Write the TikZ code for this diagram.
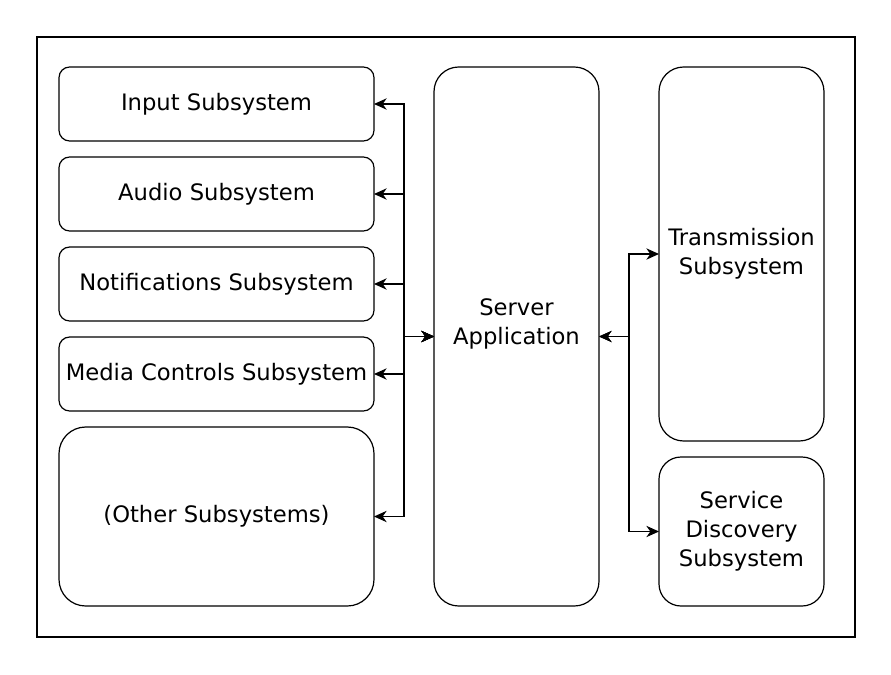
\documentclass[tikz,border=0pt]{standalone}
\usepackage{fontspec}
\setmainfont{DejaVu Sans}
\usetikzlibrary{arrows.meta,positioning,calc}

\begin{document}
\begin{tikzpicture}[>={Stealth[length=9.5pt,width=8.5pt,inset=3pt]}, x=0.75pt, y=-0.75pt, line width=0.9pt, node distance=12pt]
    \tikzset{
      subsystem/.style={rectangle, rounded corners=8pt, draw=black, minimum width=236.25pt, minimum height=55.5pt, inner sep=0pt, outer sep=0pt, text centered, align=center, font=\fontsize{17}{21.75}\selectfont},
      column/.style={rectangle, rounded corners=18.5pt, draw=black, minimum width=123.75pt, inner sep=0pt, outer sep=0pt, text centered, align=center, font=\fontsize{17}{21.75}\selectfont},
      link/.style={draw, <->}
    }

    \useasboundingbox (0,0) rectangle (891,674);
    \draw (37,37) rectangle (855,637);

    % Nodes
    \node [subsystem, anchor=north west] (input) at (59,67) {Input Subsystem};
    \node [subsystem, below=of input] (audio) {Audio Subsystem};
    \node [subsystem, below=of audio] (notifications) {Notifications Subsystem};
    \node [subsystem, below=of notifications] (media) {Media Controls Subsystem};
    \node [subsystem, below=of media, minimum height=134.25pt, rounded corners=20pt] (other) {(Other Subsystems)};

    \node [column, minimum height=404.25pt, right=45pt of input.north east, anchor=north west] (server) {Server\\Application\\\mbox{}};
    \node [column, minimum height=280.5pt, right=45pt of server.north east, anchor=north west] (transmission) {Transmission\\Subsystem};
    \node [column, minimum height=111.75pt, rounded corners=16.5pt, below=of transmission] (discovery) {Service\\Discovery\\Subsystem};

    \coordinate (leftbus) at ($(input.east)!0.5!(server.west)$);
    \coordinate (rightbus) at ($(server.east)!0.5!(transmission.west)$);

    % Edges
    \foreach \sub in {input, audio, notifications, media, other}
      \draw [link] (server.west) -- (server.west -| leftbus) |- (\sub.east);
    \foreach \sub in {transmission, discovery}
      \draw [link] (server.east) -- (server.east -| rightbus) |- (\sub.west);

\end{tikzpicture}
\end{document}
